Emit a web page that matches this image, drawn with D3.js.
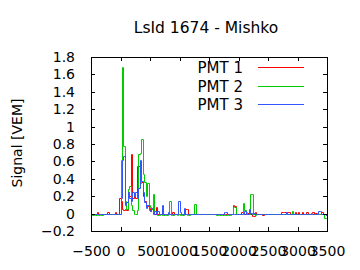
<!DOCTYPE html>
<html>
<head>
  <meta charset="utf-8">
  <title>LsId 1674 - Mishko</title>
  <script src="https://d3js.org/d3.v7.min.js"></script>
  <style>
    body { margin: 0; background: #fff; }
    text { font-family: "DejaVu Sans", sans-serif; fill: #000; }
  </style>
</head>
<body>
  <script>
    // bins of 25 ns, starting at -500 ns
    let binStart = -500;
    let binWidth = 25;

    let seriesNames = ["PMT 1", "PMT 2", "PMT 3"];
    let seriesColors = ["#ff0000", "#00cc00", "#3355ff"];

    let xTicks = [-500, 0, 500, 1000, 1500, 2000, 2500, 3000, 3500];
    let yTicks = [-0.2, 0, 0.2, 0.4, 0.6, 0.8, 1, 1.2, 1.4, 1.6, 1.8];

    let pmt1 = [
      0, 0, 0, 0, 0.02, 0, 0, 0, 0, 0,
      0, 0.02, 0, 0, 0, 0, 0.02, 0, 0, 0.18,
      0.15, 0.05, 0.04, 0.05, 0.04, 0.25, 0.2, 0.69, 0.18, 0.2,
      0.18, 0.55, 0.55, 0.35, 0.36, 0.2, 0.15, 0.1, 0.09, 0.06,
      0.03, 0.06, 0.03, 0, 0.08, 0, 0, 0, 0, 0,
      0, 0, 0, 0, 0, 0.02, 0, 0, 0, 0,
      0, 0, 0, 0, 0.05, 0.05, 0, 0, 0, 0,
      0, 0, 0, 0, 0, 0, 0, 0, 0, 0,
      0, 0, 0, 0, 0, 0, 0, 0, 0, 0,
      0, 0, 0, 0, 0, 0, 0.1, 0.09, 0, 0,
      -0.01, 0, 0.02, 0.02, 0, 0, 0.01, 0, -0.01, -0.03,
      -0.03, 0.02, -0.01, -0.01, -0.01, -0.01, -0.02, -0.01, 0, 0,
      0, 0, -0.01, 0, 0, 0, 0, 0, 0, 0.02,
      0.02, 0.02, 0.02, 0.02, 0.02, 0, 0, 0, 0.02, 0,
      0.02, 0, 0, 0.02, 0, 0, 0.02, 0, 0, 0.01,
      0.02, 0, 0.01, 0, 0, 0, 0.02, 0, 0, -0.02
    ];

    let pmt2 = [
      -0.02, -0.02, -0.02, -0.02, -0.02, -0.02, -0.02, -0.02, -0.01, -0.01,
      -0.01, -0.01, 0, 0, -0.01, -0.01, 0, 0, -0.01, -0.01,
      0.62, 1.68, 0.78, 0.15, 0.05, 0.28, 0.32, 0.1, 0.04, 0,
      0, 0.04, 0.68, 0.7, 0.86, 0.45, 0.36, 0.2, 0.35, 0.1,
      0.08, 0.05, 0.22, 0.03, 0.02, -0.02, -0.02, 0, -0.02, -0.02,
      -0.02, -0.02, 0, 0.15, -0.02, -0.02, 0, 0, -0.02, 0,
      -0.02, 0, -0.02, 0, 0, -0.02, -0.02, 0, 0, 0,
      0.11, 0, 0, 0, 0, -0.01, 0, 0, 0, 0,
      0, 0, 0, 0, 0, -0.015, -0.015, -0.015, -0.015, -0.015,
      -0.015, -0.015, -0.015, -0.015, -0.015, 0, 0.08, 0.08, 0, 0,
      0, 0, 0, 0.12, 0.04, 0.02, 0, 0, 0.23, 0.23,
      0, -0.02, 0, -0.01, 0, 0, 0, -0.01, 0, 0,
      0, -0.01, 0, -0.01, 0, 0, 0, 0, -0.01, 0,
      0, 0, 0, -0.01, 0, 0, 0.03, 0, 0, 0,
      0, 0, 0, 0, 0, 0, 0, 0, -0.01, 0,
      0, 0, 0, 0, 0, 0, 0, 0, -0.05, -0.05
    ];

    let pmt3 = [
      0, 0, 0, 0, 0, 0, 0, 0, 0, 0,
      0, 0, 0, -0.01, -0.01, 0, 0, 0, 0, 0,
      0.18, 0.62, 0.66, 0.1, 0.13, 0.25, 0.18, 0.15, 0.25, 0.2,
      0.25, 0.18, 0.3, 0.62, 0.38, 0.25, 0.13, 0.07, 0.1, 0.04,
      0.03, 0.07, 0, 0.03, 0, 0.03, 0, 0, 0.1, 0,
      0, 0, 0.02, 0, 0, 0, 0, 0, 0, 0.15,
      0.02, 0, 0, 0.07, 0, 0, 0, 0, 0, 0,
      0, 0, 0, 0, 0, 0, 0, 0, 0, 0,
      0, -0.01, 0, 0, 0, -0.01, 0, 0, 0, 0,
      0.02, 0.02, 0, 0, 0, 0, 0, 0, -0.01, 0,
      -0.01, 0, 0, 0, 0.03, 0, 0, 0.05, 0.01, 0,
      0.01, 0, 0, 0, 0, 0, 0, 0, 0, 0,
      0, 0, 0, 0, 0, 0, 0, 0, 0, 0,
      0, 0, 0.02, 0, 0, 0, 0, 0, 0, 0,
      0, 0, 0, 0, 0, 0, 0, 0, 0, 0,
      0, 0, 0, 0, 0.03, 0.03, 0, 0, 0, -0.02
    ];

    let allSeries = [pmt1, pmt2, pmt3];

    let width = 360;
    let height = 270;
    let margin = { left: 91, right: 33, top: 57, bottom: 39 };

    let svg = d3.select("body")
      .append("svg")
      .attr("width", width)
      .attr("height", height);

    let x = d3.scaleLinear()
      .domain([-500, 3500])
      .range([margin.left, width - margin.right]);

    let y = d3.scaleLinear()
      .domain([-0.2, 1.8])
      .range([height - margin.bottom, margin.top]);

    // snap to pixel centres so 1px lines stay sharp
    let px = function(v) { return Math.round(v) + 0.5; };

    // clip for the data
    svg.append("clipPath")
      .attr("id", "plot")
      .append("rect")
      .attr("x", margin.left)
      .attr("y", margin.top)
      .attr("width", x.range()[1] - x.range()[0] + 1)
      .attr("height", y.range()[0] - y.range()[1] + 1);

    // step lines, one per PMT
    let line = d3.line()
      .x(function(d) { return px(x(d[0])); })
      .y(function(d) { return px(y(d[1])); })
      .curve(d3.curveStepAfter);

    let traces = svg.append("g").attr("clip-path", "url(#plot)");
    allSeries.forEach(function(vals, k) {
      let pts = vals.map(function(v, i) { return [binStart + i * binWidth, v]; });
      pts.push([binStart + vals.length * binWidth, vals[vals.length - 1]]);
      traces.append("path")
        .datum(pts)
        .attr("fill", "none")
        .attr("stroke", seriesColors[k])
        .attr("stroke-width", 1)
        .attr("d", line);
    });

    // axes, ticks inside, mirrored
    let fmtY = function(d) { return d3.format("~g")(d); };
    let fmtX = d3.format("d");

    let axBottom = svg.append("g")
      .attr("transform", "translate(0," + y.range()[0] + ")")
      .call(d3.axisBottom(x).tickValues(xTicks).tickSizeInner(-4).tickSizeOuter(0).tickPadding(15).tickFormat(fmtX));
    let axTop = svg.append("g")
      .attr("transform", "translate(0," + y.range()[1] + ")")
      .call(d3.axisTop(x).tickValues(xTicks).tickSizeInner(-4).tickSizeOuter(0).tickFormat(""));
    let axLeft = svg.append("g")
      .attr("transform", "translate(" + x.range()[0] + ",0)")
      .call(d3.axisLeft(y).tickValues(yTicks).tickSizeInner(-4).tickSizeOuter(0).tickPadding(16).tickFormat(fmtY));
    let axRight = svg.append("g")
      .attr("transform", "translate(" + x.range()[1] + ",0)")
      .call(d3.axisRight(y).tickValues(yTicks).tickSizeInner(-4).tickSizeOuter(0).tickFormat(""));

    [axBottom, axTop, axLeft, axRight].forEach(function(g) {
      g.select(".domain").remove();
      g.selectAll("line").attr("stroke", "#000").attr("shape-rendering", "crispEdges");
      g.selectAll("text")
        .style("font-family", "DejaVu Sans, sans-serif")
        .style("font-size", "14px");
    });

    svg.append("rect")
      .attr("x", px(margin.left))
      .attr("y", px(margin.top))
      .attr("width", x.range()[1] - x.range()[0])
      .attr("height", y.range()[0] - y.range()[1])
      .attr("fill", "none")
      .attr("stroke", "#000")
      .attr("stroke-width", 1);

    // title and y label
    svg.append("text")
      .attr("x", 206)
      .attr("y", 33)
      .attr("text-anchor", "middle")
      .style("font-size", "15.5px")
      .text("LsId 1674 - Mishko");

    svg.append("text")
      .attr("transform", "translate(22,143) rotate(-90)")
      .attr("text-anchor", "middle")
      .style("font-size", "14px")
      .text("Signal [VEM]");

    // legend
    let legend = svg.append("g");
    seriesNames.forEach(function(name, k) {
      let ly = px(67 + k * 18.7);
      legend.append("text")
        .attr("x", 243)
        .attr("y", ly + 5)
        .attr("text-anchor", "end")
        .style("font-size", "15px")
        .text(name);
      legend.append("line")
        .attr("x1", 258)
        .attr("x2", 304)
        .attr("y1", ly)
        .attr("y2", ly)
        .attr("stroke", seriesColors[k])
        .attr("stroke-width", 1);
    });
  </script>
</body>
</html>
